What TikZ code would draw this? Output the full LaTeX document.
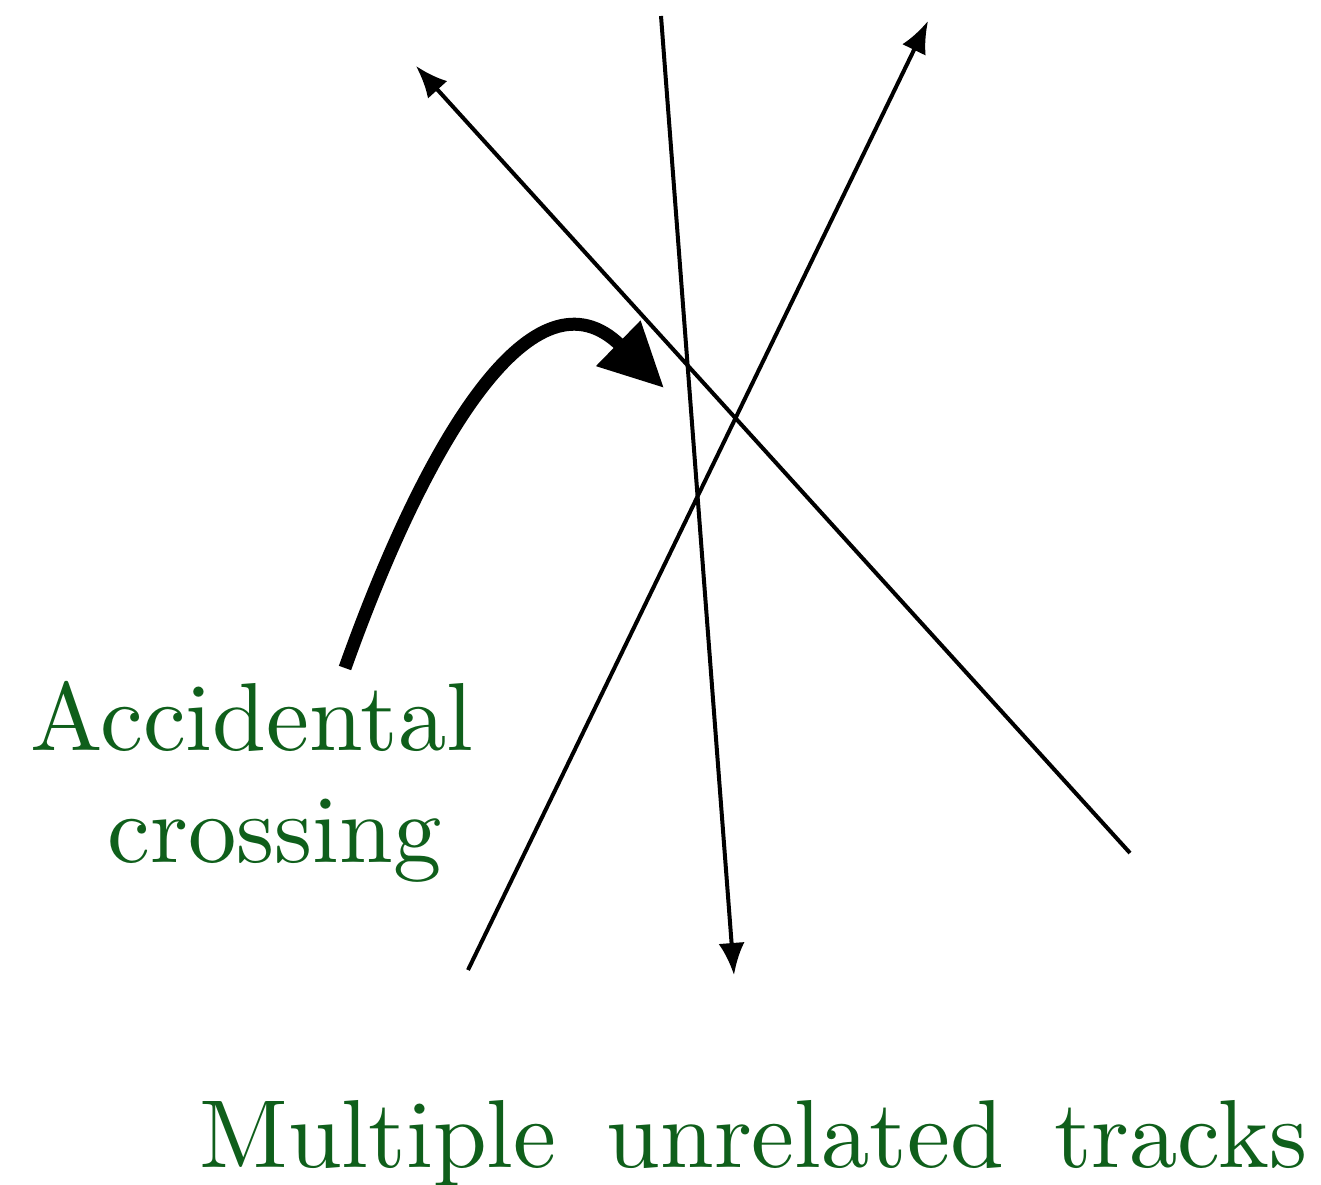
\documentclass[tikz,border=0pt]{standalone}
\usepackage{fontspec}
\newfontfamily\tenfont{lmroman10-regular}[Extension=.otf]
\usetikzlibrary{arrows.meta}
\definecolor{txtgreen}{RGB}{15,95,27}
\begin{document}
\begin{tikzpicture}[x=0.5bp,y=-0.5bp,
  track/.style={line width=2bp,-{Latex[length=16bp,width=13bp]}},
  bigarrow/.style={line width=6.5bp,-{Triangle[length=32bp,width=30bp]}},
  lbl/.style={text=txtgreen,font=\tenfont\fontsize{48.5}{56}\selectfont,inner sep=0pt,anchor=base west}]
\useasboundingbox (0,0) rectangle (1321,1185);
\coordinate (t1s) at (1130,853);
\coordinate (t1e) at (416,66);
\coordinate (t2s) at (661,16);
\coordinate (t2e) at (734,975);
\coordinate (t3s) at (468,970);
\coordinate (t3e) at (928,21);
\coordinate (cs) at (345,668);
\coordinate (ce) at (664,388);
\draw[track] (t1s) -- (t1e);
\draw[track] (t2s) -- (t2e);
\draw[track] (t3s) -- (t3e);
\draw[bigarrow] (cs) .. controls (428,435) and (535,262) .. (ce);
\node[lbl] (acc) at (30,750) {Accidental};
\node[lbl] (cro) at (107,862) {crossing};
\node[lbl] (mut) at (199,1167) {\spaceskip=25bp Multiple unrelated tracks};
\end{tikzpicture}
\end{document}
